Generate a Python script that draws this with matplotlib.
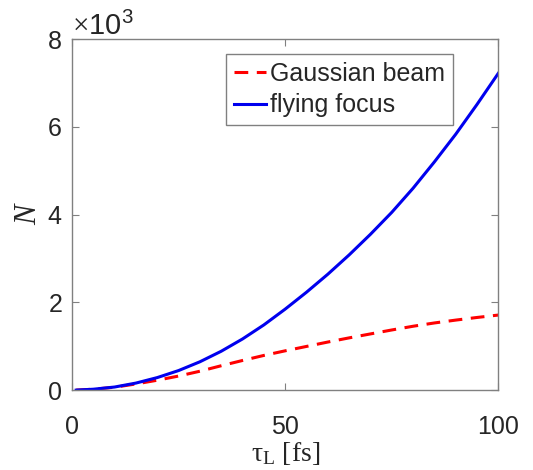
import numpy as np
import matplotlib.pyplot as plt
from matplotlib.ticker import ScalarFormatter

plt.rcParams['font.family'] = ['Liberation Sans', 'DejaVu Sans']
plt.rcParams['mathtext.fontset'] = 'custom'
plt.rcParams['mathtext.rm'] = 'Liberation Serif'
plt.rcParams['mathtext.it'] = 'Liberation Serif:italic'

# pulse duration [fs]
tau = [1, 5, 10, 15, 20, 25, 30, 35, 40, 45, 50, 55, 60, 65, 70, 75, 80, 85, 90, 95, 100]
# number of particles
n_gauss = [0, 20, 65, 140, 225, 320, 430, 555, 675, 790, 895, 995, 1095, 1190, 1280,
           1370, 1455, 1530, 1595, 1655, 1710]
n_flying = [0, 20, 70, 160, 285, 445, 645, 885, 1165, 1485, 1845, 2230, 2640, 3080, 3550,
            4050, 4600, 5200, 5830, 6510, 7220]

axis_gray = '#808080'
text_dark = '#262626'

fig = plt.figure(figsize=(5.33, 4.70), dpi=100)
ax = fig.add_axes([0.135, 0.170, 0.800, 0.747])

ax.plot(tau, n_gauss, color='#ff0000', lw=2.2, dashes=(4.5, 2.8), label='Gaussian beam')
ax.plot(tau, n_flying, color='#0000ee', lw=2.2, label='flying focus')

ax.set_xlim(0, 100)
ax.set_ylim(0, 8000)
ax.set_xticks([0, 50, 100])
ax.set_yticks([0, 2000, 4000, 6000, 8000])

fmt = ScalarFormatter(useMathText=True)
fmt.set_powerlimits((3, 3))
ax.yaxis.set_major_formatter(fmt)

for s in ax.spines.values():
    s.set_color(axis_gray)
    s.set_linewidth(1.0)
ax.tick_params(direction='in', length=5, width=0.8, colors=axis_gray,
               labelcolor=text_dark, labelsize=18, top=True, right=True)
ax.tick_params(axis='x', pad=18)
ax.tick_params(axis='y', pad=7)

off = ax.yaxis.get_offset_text()
off.set_fontsize(21)
off.set_color(text_dark)

ax.set_xlabel(r'$\mathrm{\tau_{L}}$ [fs]', family='Liberation Serif', fontsize=20,
              color=text_dark, labelpad=1)
ax.set_ylabel('N', family='Liberation Serif', style='italic', fontsize=22,
              color=text_dark, labelpad=3)

leg = ax.legend(loc='upper right', bbox_to_anchor=(0.893, 0.956), fontsize=18,
                fancybox=False, framealpha=1, edgecolor=axis_gray,
                handlelength=1.3, handletextpad=0.15, labelspacing=0.3,
                borderpad=0.3, borderaxespad=0)
leg.get_frame().set_linewidth(1.0)
for t in leg.get_texts():
    t.set_color(text_dark)

fig.savefig('out.png', dpi=100)
